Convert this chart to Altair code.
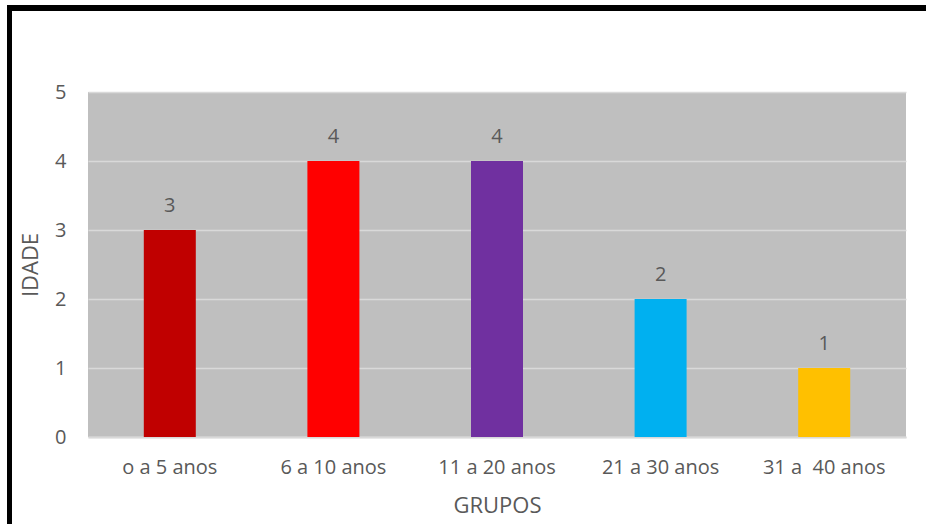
import altair as alt
import pandas as pd

# Age groups and counts (non-breaking space keeps the double gap in the last label)
grupos = ["o a 5 anos", "6 a 10 anos", "11 a 20 anos", "21 a 30 anos", "31 a\u00a0 40 anos"]
idade = [3, 4, 4, 2, 1]
cores = ["#C00000", "#FF0000", "#7030A0", "#00B0F0", "#FFC000"]

df = pd.DataFrame({"grupo": grupos, "idade": idade, "cor": cores})

FONT = "Open Sans"
TXT = "#595959"

base = alt.Chart(df)

bars = base.mark_bar(size=52).encode(
    x=alt.X(
        "grupo:N",
        sort=grupos,
        title="GRUPOS",
        scale=alt.Scale(paddingInner=0, paddingOuter=0),
        axis=alt.Axis(
            labelAngle=0, labelFont=FONT, labelFontSize=20, labelColor=TXT,
            labelPadding=20, ticks=False, domainColor="#D9D9D9", domainWidth=2,
            titleFont=FONT, titleFontSize=22, titleColor=TXT, titleFontWeight="normal",
            titleY=68, titleBaseline="middle",
        ),
    ),
    y=alt.Y(
        "idade:Q",
        title="IDADE",
        scale=alt.Scale(domain=[0, 5], nice=False),
        axis=alt.Axis(
            values=[0, 1, 2, 3, 4, 5], format="d", labelFont=FONT, labelFontSize=20,
            labelColor=TXT, labelPadding=22, ticks=False, domain=False,
            gridColor="#D9D9D9", gridWidth=1.5,
            titleFont=FONT, titleFontSize=22, titleColor=TXT, titleFontWeight="normal",
            titleX=-58, titleBaseline="middle",
        ),
    ),
    color=alt.Color("cor:N", scale=None),
)

labels = base.mark_text(
    font=FONT, fontSize=20, color=TXT, baseline="bottom", dy=-14
).encode(
    x=alt.X("grupo:N", sort=grupos),
    y="idade:Q",
    text="idade:Q",
)

# Black frame around the chart (left and top edges)
frame_left = base.mark_rule(color="black", strokeWidth=5, clip=False).encode(
    x=alt.value(-78.5), y=alt.value(-84), y2=alt.value(460)
)
frame_top = base.mark_rule(color="black", strokeWidth=6, clip=False).encode(
    x=alt.value(-81), x2=alt.value(860), y=alt.value(-84)
)

chart = alt.layer(bars, labels, frame_left, frame_top).properties(
    width=818,
    height=345,
    autosize=alt.AutoSizeParams(type="none"),
    padding={"left": 88, "top": 92, "right": 20, "bottom": 87},
    background="white",
).configure_view(fill="#BFBFBF", stroke=None)

chart.save("out.html", embed_options={"renderer": "svg", "actions": False})
